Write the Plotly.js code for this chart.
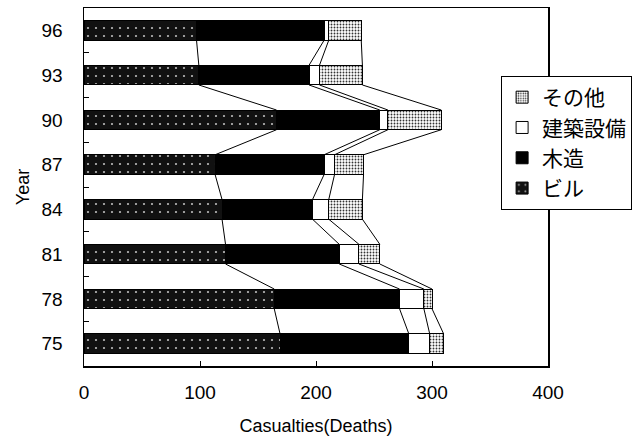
<!DOCTYPE html>
<html><head><meta charset="utf-8">
<script src="https://cdn.plot.ly/plotly-3.0.1.min.js"></script>
<style>body{margin:0;background:#fff}#c{width:639px;height:445px}</style>
</head><body><div id="c"></div>
<script>
const years = ["75","78","81","84","87","90","93","96"];
const building = [169,164,122,119,113,166,99,97];     // ビル
const wooden   = [111,108,98,78,94,89,95,110];        // 木造
const equipment= [18,21,17,14,9,7,9,4];               // 建築設備
const other    = [12,7,18,29,25,46,37,28];            // その他
const seriesNames = ["ビル","木造","建築設備","その他"];

const yIdx = years.map((_,i)=>i);
const W = 0.44;
const font = "Liberation Sans, Arial, Noto Sans CJK JP, sans-serif";
const jfont = "Noto Sans CJK JP, sans-serif";

const data = [];
const styles = [
  {color:"#111", pattern:{shape:".", bgcolor:"#111", fgcolor:"#bbb", size:8, solidity:0.06}},
  {color:"#000"},
  {color:"#fff"},
  {color:"#fff", pattern:{shape:".", bgcolor:"#fff", fgcolor:"#333", size:3, solidity:0.3}}
];
const vals = [building, wooden, equipment, other];
vals.forEach((v,k)=>{
  const m = {color: styles[k].color, line:{color:"#000", width:1}};
  if (styles[k].pattern) m.pattern = styles[k].pattern;
  data.push({type:"bar", orientation:"h", x:v, y:yIdx, width:W, name:seriesNames[k], marker:m, hoverinfo:"skip"});
});

// series lines connecting cumulative boundaries
const cum = [];
let run = years.map(()=>0);
vals.forEach(v=>{ run = run.map((r,i)=>r+v[i]); cum.push(run.slice()); });
cum.forEach(c=>{
  const xs=[], ys=[];
  for (let i=0;i<years.length-1;i++){
    xs.push(c[i], c[i+1], null);
    ys.push(i+W/2, i+1-W/2, null);
  }
  data.push({type:"scatter", mode:"lines", x:xs, y:ys, line:{color:"#000", width:1}, showlegend:false, hoverinfo:"skip"});
});

const layout = {
  width:639, height:445,
  margin:{l:84, r:90, t:8, b:79},
  paper_bgcolor:"#fff", plot_bgcolor:"#fff",
  barmode:"stack",
  showlegend:true,
  xaxis:{range:[0,400], tickvals:[0,100,200,300,400], ticks:"inside", ticklen:5, tickcolor:"#000",
    showgrid:false, zeroline:false, showline:true, mirror:true, linecolor:"#000", linewidth:1.5,
    tickfont:{family:font, size:19, color:"#000"}, ticklabelstandoff:9,
    title:{text:"Casualties(Deaths)", font:{family:font, size:18, color:"#000"}, standoff:17}},
  yaxis:{range:[-0.5,7.5], tickmode:"array", tickvals:yIdx, ticktext:years, ticks:"", 
    minor:{tickmode:"array", tickvals:[0.5,1.5,2.5,3.5,4.5,5.5,6.5], ticks:"inside", ticklen:5, tickcolor:"#000"},
    showgrid:false, zeroline:false, showline:true, mirror:true, linecolor:"#000", linewidth:1.5,
    tickfont:{family:font, size:19, color:"#000"}, ticklabelstandoff:16,
    title:{text:"Year", font:{family:font, size:18, color:"#000"}, standoff:7}},
  legend:{x:0.897, y:0.81, xanchor:"left", yanchor:"top", traceorder:"reversed",
    bordercolor:"#000", borderwidth:1, bgcolor:"#fff",
    font:{family:jfont, size:21, color:"#000"}, tracegroupgap:0, itemwidth:30}
};
Plotly.newPlot("c", data, layout, {staticPlot:true});
</script></body></html>
